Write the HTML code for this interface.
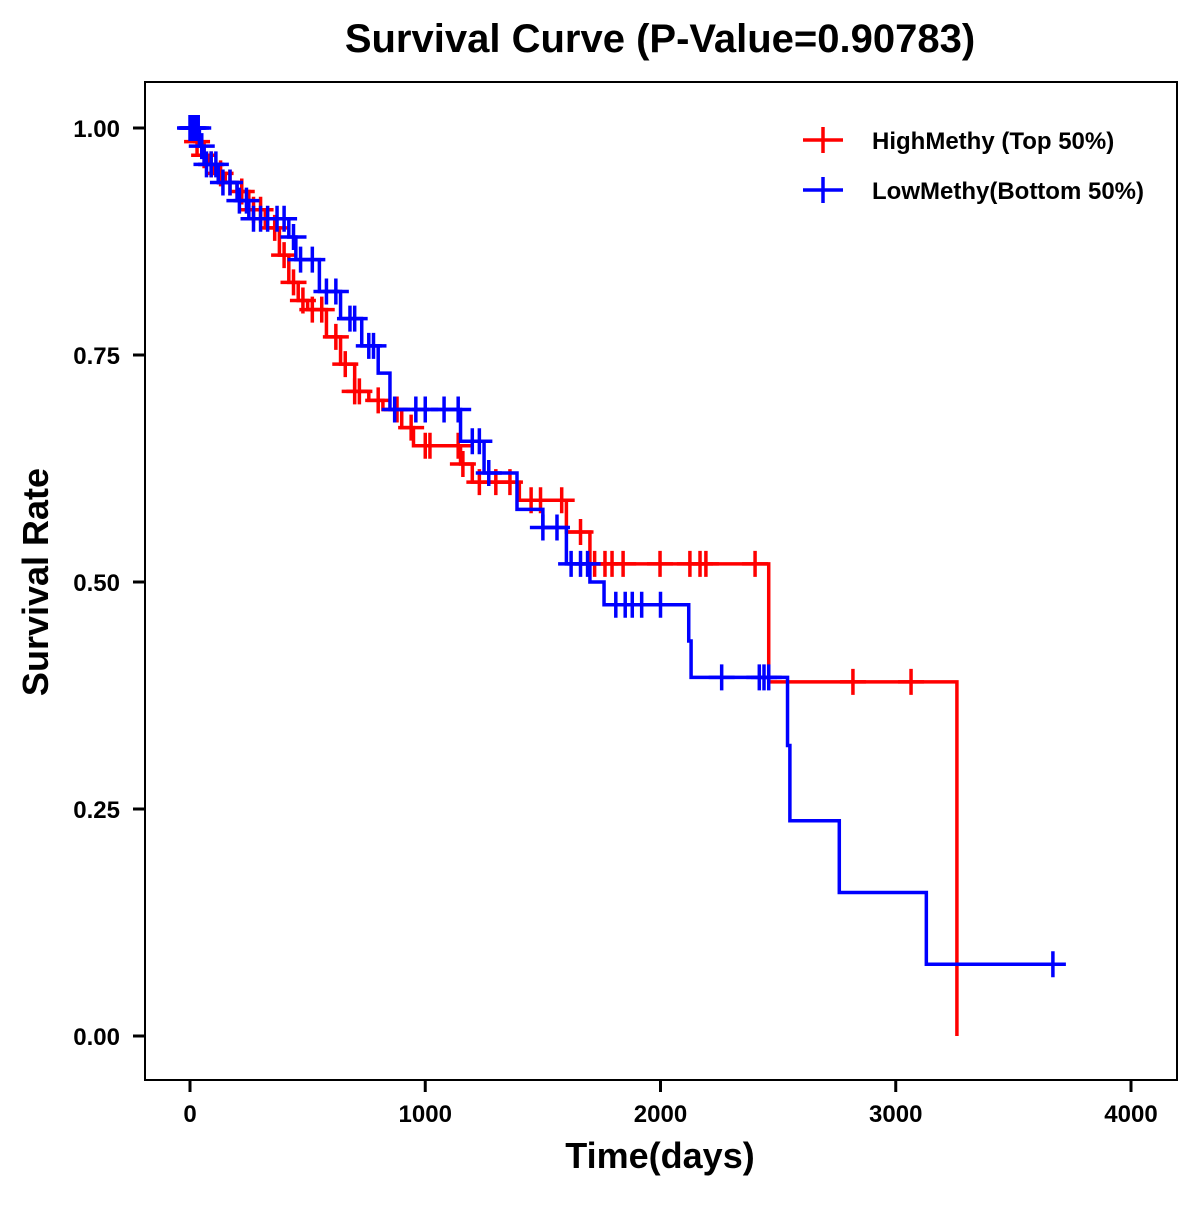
<!DOCTYPE html>
<html><head><meta charset="utf-8"><style>
html,body{margin:0;padding:0;background:#fff;}
svg text{font-family:"Liberation Sans",Arial,sans-serif;font-weight:bold;}
</style></head><body>
<svg id="chart" width="1200" height="1200" viewBox="0 0 1200 1200" xmlns="http://www.w3.org/2000/svg">
<rect x="0" y="0" width="1200" height="1200" fill="#fff"/>
<text x="660" y="52" font-size="40" text-anchor="middle">Survival Curve (P-Value=0.90783)</text>
<rect x="145" y="82" width="1032" height="998" fill="none" stroke="#000" stroke-width="2"/>
<g id="axes"></g>
<g id="series"></g>
<text x="660" y="1168" font-size="36" text-anchor="middle">Time(days)</text>
<text x="48" y="582" font-size="36" text-anchor="middle" transform="rotate(-90 48 582)">Survival Rate</text>
<g>
<g>
<line x1="803" y1="140" x2="843" y2="140" stroke="#ff0000" stroke-width="3.5"/>
<line x1="823" y1="127" x2="823" y2="153" stroke="#ff0000" stroke-width="3.5"/>
<text x="872" y="149" font-size="24">HighMethy (Top 50%)</text></g>
<g>
<line x1="803" y1="190" x2="843" y2="190" stroke="#0000ff" stroke-width="3.5"/>
<line x1="823" y1="177" x2="823" y2="203" stroke="#0000ff" stroke-width="3.5"/>
<text x="872" y="199" font-size="24">LowMethy(Bottom 50%)</text></g>
</g>
</svg>
<script>
const xTicks=[0,1000,2000,3000,4000];
const yTicks=[0,0.25,0.5,0.75,1.0];
const yTickLabels=["0.00","0.25","0.50","0.75","1.00"];
const highTimes=[0,20,50,80,100,150,200,250,320,380,420,460,500,580,640,700,760,820,900,950,1150,1200,1400,1600,1700,2460,3260];
const highSurv=[1.0,0.985,0.97,0.96,0.95,0.94,0.93,0.91,0.89,0.86,0.83,0.81,0.80,0.77,0.74,0.71,0.70,0.69,0.67,0.65,0.63,0.61,0.59,0.555,0.52,0.39,0.0];
const highCensorT=[10,30,60,90,130,170,220,270,300,360,400,440,480,520,560,620,660,700,720,800,880,940,1000,1020,1140,1160,1230,1300,1360,1450,1490,1580,1660,1720,1764,1794,1841,1998,2125,2168,2193,2402,2818,3065];
const lowTimes=[0,40,60,120,200,250,420,450,550,640,730,800,850,1150,1250,1390,1500,1600,1700,1760,2120,2130,2540,2550,2760,3130,3720];
const lowSurv=[1.0,0.98,0.96,0.94,0.92,0.90,0.88,0.855,0.82,0.79,0.76,0.73,0.69,0.655,0.62,0.58,0.56,0.52,0.50,0.475,0.435,0.395,0.32,0.237,0.158,0.079,0.079];
const lowCensorT=[0,5,10,15,25,35,50,70,90,110,140,170,210,240,270,300,330,370,400,440,470,520,580,620,680,700,760,780,870,960,1000,1080,1140,1200,1230,1270,1500,1560,1620,1660,1690,1810,1850,1880,1920,2000,2260,2420,2440,2460,3668];

const X=t=>190+t*0.23525;
const Y=s=>1036-s*908;
const NS="http://www.w3.org/2000/svg";
function mk(tag,attrs,parent){const e=document.createElementNS(NS,tag);for(const k in attrs)e.setAttribute(k,attrs[k]);parent.appendChild(e);return e;}
const axes=document.getElementById('axes');
xTicks.forEach(t=>{
  const g=mk('g',{},axes);
  
  
  mk('line',{x1:X(t),y1:1080,x2:X(t),y2:1092,stroke:'#000','stroke-width':3},g);
  const tx=mk('text',{x:X(t),y:1122,'font-size':24,'text-anchor':'middle'},g);tx.textContent=t;
});
yTicks.forEach((v,i)=>{
  const g=mk('g',{},axes);
  
  
  mk('line',{x1:133,y1:Y(v),x2:145,y2:Y(v),stroke:'#000','stroke-width':3},g);
  const tx=mk('text',{x:120,y:Y(v)+9,'font-size':24,'text-anchor':'end'},g);tx.textContent=yTickLabels[i];
});
function survAt(times,surv,t){let s=surv[0];for(let i=0;i<times.length;i++){if(times[i]<=t)s=surv[i];}return s;}
function draw(times,surv,cens,color,name){
  const g=mk('g',{},document.getElementById('series'));
  
  
  let d='M'+X(times[0])+','+Y(surv[0]);
  for(let i=1;i<times.length;i++){d+=' H'+X(times[i])+' V'+Y(surv[i]);}
  const p=mk('path',{d:d,fill:'none',stroke:color,'stroke-width':3.5},g);
  
  
  cens.forEach(t=>{
    const x=X(t),y=Y(survAt(times,surv,t));
    const c=mk('path',{d:`M${x-13},${y} H${x+13} M${x},${y-13} V${y+13}`,stroke:color,'stroke-width':3.5,fill:'none'},g);
    
    
  });
}
draw(highTimes,highSurv,highCensorT,'#ff0000','high-methy');
draw(lowTimes,lowSurv,lowCensorT,'#0000ff','low-methy');
</script>
</body></html>
